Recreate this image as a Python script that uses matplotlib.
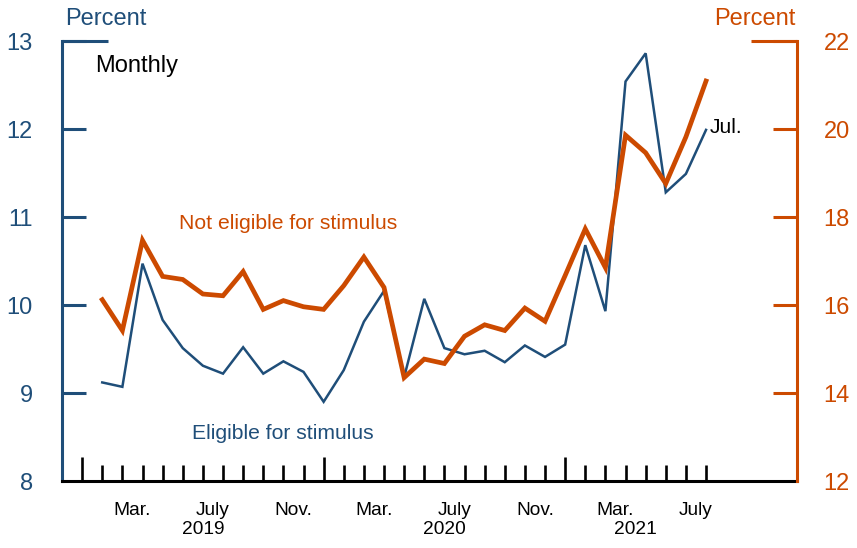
import matplotlib
matplotlib.use("Agg")
import matplotlib.pyplot as plt
import matplotlib.transforms as mtransforms
import numpy as np

plt.rcParams['font.family'] = ['Liberation Sans', 'DejaVu Sans']

# Monthly data, Jan 2019 - Jul 2021
months = ["Jan19","Feb19","Mar19","Apr19","May19","Jun19","Jul19","Aug19","Sep19","Oct19","Nov19","Dec19",
          "Jan20","Feb20","Mar20","Apr20","May20","Jun20","Jul20","Aug20","Sep20","Oct20","Nov20","Dec20",
          "Jan21","Feb21","Mar21","Apr21","May21","Jun21","Jul21"]
eligible = [9.12, 9.07, 10.47, 9.83, 9.51, 9.31, 9.22, 9.52, 9.22, 9.36, 9.24, 8.90,
            9.26, 9.81, 10.16, 9.18, 10.07, 9.51, 9.44, 9.48, 9.35, 9.54, 9.41, 9.55,
            10.68, 9.93, 12.54, 12.86, 11.28, 11.49, 11.99]
not_eligible = [16.12, 15.42, 17.47, 16.65, 16.58, 16.25, 16.21, 16.76, 15.90, 16.10, 15.96, 15.90,
                16.44, 17.09, 16.40, 14.35, 14.77, 14.67, 15.29, 15.55, 15.42, 15.93, 15.63, 16.67,
                17.73, 16.85, 19.86, 19.46, 18.76, 19.82, 21.09]
left_ticks = [8, 9, 10, 11, 12, 13]
right_ticks = [12, 14, 16, 18, 20, 22]
month_labels = [("Mar.", 2), ("July", 6), ("Nov.", 10), ("Mar.", 14), ("July", 18),
                ("Nov.", 22), ("Mar.", 26), ("July", 30)]
year_labels = [("2019", 6.0), ("2020", 18.0), ("2021", 27.5)]

BLUE = "#1f4e79"
ORANGE = "#cc4a00"

fig = plt.figure(figsize=(8.57, 5.48), dpi=100)
ax = fig.add_axes([62/857, 67/548, 735/857, 440/548])
ax2 = ax.twinx()

# x positions: each month's value plotted at month end (month index + 1)
x = np.arange(len(months)) + 1

ax.plot(x, eligible, color=BLUE, lw=1.8, solid_joinstyle='miter', zorder=3)
ax2.plot(x, not_eligible, color=ORANGE, lw=3.4, solid_joinstyle='miter', zorder=3)

ax.set_xlim(-1, 35.52)
ax.set_ylim(8, 13)
ax2.set_ylim(12, 22)

# spines
for s in ['top', 'right']:
    ax.spines[s].set_visible(False)
ax.spines['left'].set_color(BLUE)
ax.spines['left'].set_linewidth(2.2)
ax.spines['bottom'].set_color('black')
ax.spines['bottom'].set_linewidth(2.2)
for s in ['top', 'left', 'bottom']:
    ax2.spines[s].set_visible(False)
ax2.spines['right'].set_color(ORANGE)
ax2.spines['right'].set_linewidth(2.2)

# y ticks
ax.set_yticks(left_ticks)
ax.set_yticklabels([str(t) for t in left_ticks])
ax.tick_params(axis='y', direction='in', length=17.5, width=2.2, color=BLUE,
               labelcolor=BLUE, labelsize=17, pad=21)
ax2.set_yticks(right_ticks)
ax2.set_yticklabels([str(t) for t in right_ticks])
ax2.tick_params(axis='y', direction='in', length=17.5, width=2.2, color=ORANGE,
                labelcolor=ORANGE, labelsize=17, pad=19)
# no tick marks at the bottom value (labels only)
ax.yaxis.get_major_ticks()[0].tick1line.set_visible(False)
ax2.yaxis.get_major_ticks()[0].tick2line.set_visible(False)
# longer top ticks
ax.plot([0, 46/735], [1, 1], transform=ax.transAxes, color=BLUE, lw=2.2,
        clip_on=False, solid_capstyle='butt')
ax2.plot([1 - 46/735, 1], [1, 1], transform=ax2.transAxes, color=ORANGE, lw=2.2,
         clip_on=False, solid_capstyle='butt')

# x ticks: months small, Januaries tall
ax.set_xticks([0, 12, 24])
ax.set_xticks(np.arange(0, 32), minor=True)
ax.tick_params(axis='x', which='major', direction='in', length=17.5, width=1.9,
               color='black', labelbottom=False)
ax.tick_params(axis='x', which='minor', direction='in', length=11.5, width=1.9,
               color='black', labelbottom=False)

trans = mtransforms.blended_transform_factory(ax.transData, ax.transAxes)
for lab, m in month_labels:
    ax.text(m + 0.5, -0.066, lab, transform=trans, ha='center', va='center',
            fontsize=13.8, color='black')
for lab, m in year_labels:
    ax.text(m, -0.111, lab, transform=trans, ha='center', va='center',
            fontsize=13.8, color='black')

# annotations
ax.text(0.045, 0.943, "Monthly", transform=ax.transAxes, ha='left', va='center',
        fontsize=17, color='black')
ax.text(0.3075, 0.586, "Not eligible for stimulus", transform=ax.transAxes,
        ha='center', va='center', fontsize=15.2, color=ORANGE)
ax.text(0.3007, 0.109, "Eligible for stimulus", transform=ax.transAxes,
        ha='center', va='center', fontsize=15.2, color=BLUE)
ax.text(31.2, 12.02, "Jul.", ha='left', va='center', fontsize=15.2, color='black')

fig.text(65/857, 1 - 19/548, "Percent", ha='left', va='center', fontsize=17, color=BLUE)
fig.text(795/857, 1 - 19/548, "Percent", ha='right', va='center', fontsize=17, color=ORANGE)

fig.savefig("out.png", dpi=100)
